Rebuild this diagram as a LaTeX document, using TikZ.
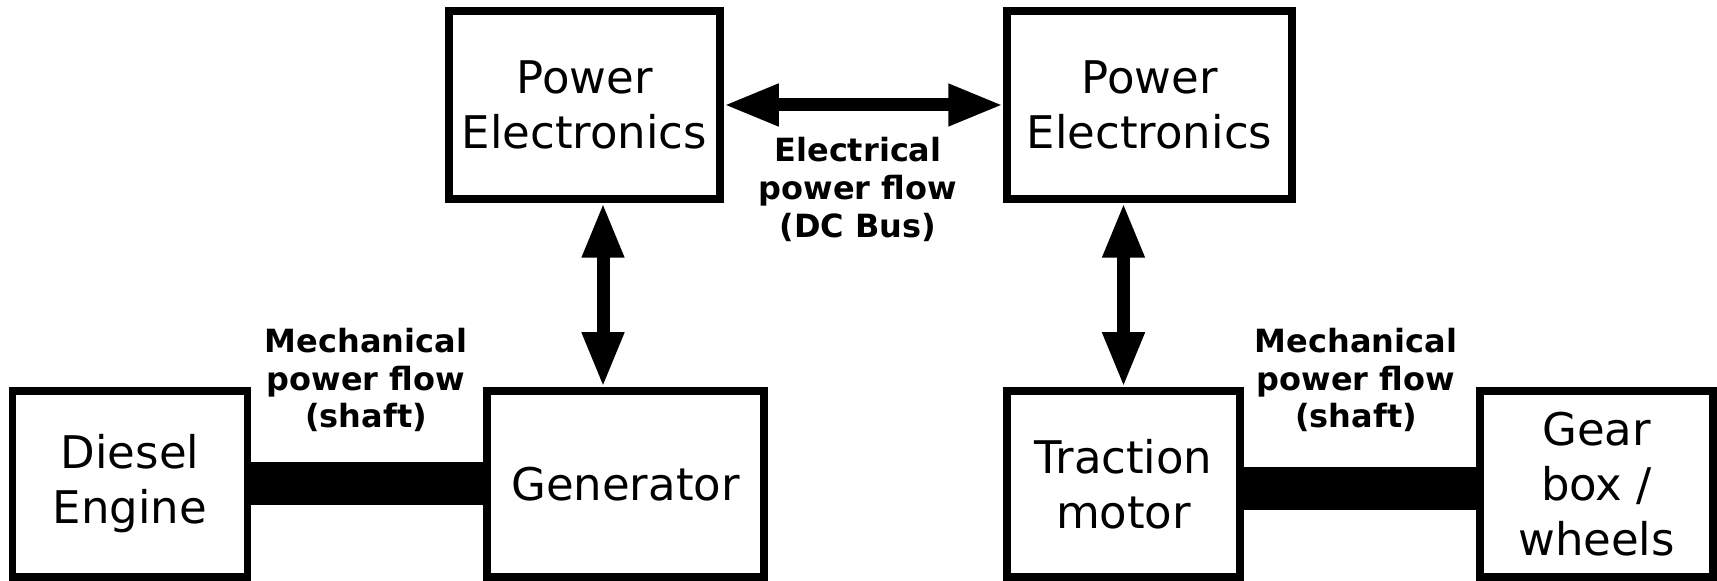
\documentclass[tikz,border=0pt]{standalone}
\usepackage{fontspec}
\setmainfont{DejaVu Sans}
\usetikzlibrary{arrows.meta, calc, positioning}

\begin{document}
\begin{tikzpicture}[
    block/.style={draw, line width=0.075cm, inner sep=0pt, align=center,
        minimum height=1.86cm, font=\fontsize{12.8}{15.6}\selectfont},
    shaft/.style={line width=0.43cm},
    flow/.style={line width=0.13cm,
        {Triangle[length=0.55cm,width=0.39cm]}-{Triangle[length=0.55cm,width=0.39cm]}},
    note/.style={align=center, font=\bfseries\fontsize{9.1}{10.8}\selectfont}
]
    \useasboundingbox (0,0) rectangle (17.17,5.81);

    \node[block, minimum width=2.71cm, minimum height=1.88cm] (PEL) at (5.845,4.76) {Power\\Electronics};
    \node[block, minimum width=2.85cm, minimum height=1.88cm] (PER) at (11.495,4.76) {Power\\Electronics};

    \node[block, minimum width=2.35cm] (Diesel) at (1.30,0.97) {Diesel\\Engine};
    \node[block, minimum width=2.77cm] (Gen) at (6.255,0.97) {Generator};
    \node[block, minimum width=2.33cm] (TM) at (11.235,0.97) {Traction\\motor};
    \node[block, minimum width=2.33cm] (Gear) at (15.965,0.97) {Gear\\box /\\wheels};

    \node[note] (elec) at (8.58,3.915) {Electrical\\power flow\\(DC Bus)};
    \node[note] (mechL) at (3.66,2.01) {Mechanical\\power flow\\(shaft)};
    \node[note] (mechR) at (13.56,2.01) {Mechanical\\power flow\\(shaft)};

    \draw[flow] (PEL.east) -- (PER.west);
    \draw[flow] ($(PEL.south)+(0.185,0)$) -- ($(Gen.north)+(-0.225,0)$);
    \draw[flow] (PER.south -| TM.north) -- (TM.north);

    \draw[shaft] (Diesel) -- (Gen);
    \draw[shaft] ($(TM.east)+(0,-0.045)$) -- ($(Gear.west)+(0,-0.045)$);
\end{tikzpicture}
\end{document}
